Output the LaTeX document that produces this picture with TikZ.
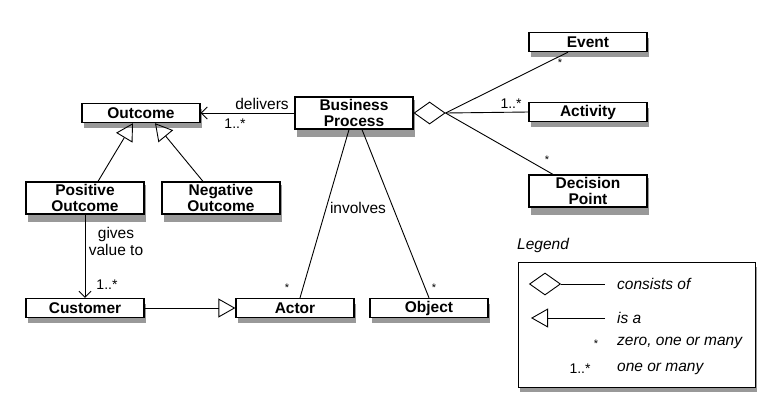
\documentclass[tikz,border=0pt]{standalone}
\usepackage{fontspec}
\setmainfont{Liberation Sans}
\usetikzlibrary{shapes.geometric, arrows.meta, positioning, backgrounds}
\tikzset{
  cls/.style = {rectangle, draw=black, line width=1.3pt, fill=white, align=center, minimum width=118pt, minimum height=19pt,
    inner xsep=1pt, inner ysep=2pt, font=\fontsize{15.5}{16.5}\selectfont\bfseries},
  boxshadow/.style = {fill=black!40},
  line/.style = {line width=0.9pt},
  assoc/.style = {line, -{Straight Barb[length=6pt, width=12pt]}},
  isa/.style = {line, -{Triangle[open, length=17pt, width=19pt, line width=0.9pt]}},
  agg/.style = {diamond, draw=black, line width=0.9pt, fill=white, minimum width=31pt, minimum height=22pt, inner sep=0pt},
  lbl/.style = {font=\fontsize{15.5}{17}\selectfont, inner sep=1pt},
  mult/.style = {font=\fontsize{14}{15}\selectfont, inner sep=1pt},
  star/.style = {font=\fontsize{11}{12}\selectfont, inner sep=1pt},
  note/.style = {font=\fontsize{15.5}{17}\selectfont\itshape, inner sep=1pt, anchor=west}
}

\begin{document}
\begin{tikzpicture}[x=1pt, y=-1pt]
\useasboundingbox (0,0) rectangle (768,400);

% shadows first, boxes on top
\foreach \cx/\cy/\h in {588/42/19, 588/112/19, 588/191/37, 354/113/37, 141/113/19, 85/198/37, 221/198/37, 85/308/19, 295/308/19, 429/308/19}
  \fill[boxshadow] (\cx-57,\cy-\h/2+5) rectangle (\cx+61,\cy+\h/2+5);
\fill[boxshadow] (520,267) rectangle (757,392);

% classes
\node[cls] (event) at (588,42) {Event};
\node[cls] (activity) at (588,112) {Activity};
\node[cls] (decision) at (588,191) {Decision\\Point};
\node[cls] (bp) at (354,113) {Business\\Process};
\node[agg, right=0pt of bp] (bpagg) {};
\node[cls] (outcome) at (141,113) {Outcome};
\node[cls] (pos) at (85,198) {Positive\\Outcome};
\node[cls] (neg) at (221,198) {Negative\\Outcome};
\node[cls] (customer) at (85,308) {Customer};
\node[cls] (actor) at (295,308) {Actor};
\node[cls] (object) at (429,308) {Object};

% consists of
\draw[line] (bpagg.east) -- ([xshift=-20pt]event.south);
\draw[line] (bpagg.east) -- (activity.west);
\draw[line] (bpagg.east) -- ([xshift=-35pt]decision.north);
\node[star] at (560,63) {*};
\node[mult] at (511,104) {1..*};
\node[star] at (547,160) {*};

% associations
\draw[assoc] (bp.west) -- (outcome.east);
\node[lbl] at (262,104) {delivers};
\node[mult] at (235,124) {1..*};
\draw[assoc] (pos.south) -- (customer.north);
\node[lbl, align=center] at (116,241) {gives\\value to};
\node[mult] at (107,285) {1..*};
\draw[line] ([xshift=-5pt]bp.south) -- ([xshift=5pt]actor.north);
\draw[line] ([xshift=8pt]bp.south) -- (object.north);
\node[lbl] at (358,208) {involves};
\node[star] at (287,288) {*};
\node[star] at (434,288) {*};

% is a
\draw[isa] ([xshift=13pt]pos.north) -- ([xshift=-8pt]outcome.south);
\draw[isa] ([xshift=-18pt]neg.north) -- ([xshift=14pt]outcome.south);
\draw[isa] (customer.east) -- (actor.west);

% legend
\node[note] (lgtitle) at (516,245) {Legend};
\node[draw=black, line width=1pt, fill=white, minimum width=237pt, minimum height=125pt] (legend) at (636.5,324.5) {};
\node[agg] (lgagg) at (545,284) {};
\coordinate (lgaggend) at (605,284);
\draw[line] (lgagg.east) -- (lgaggend);
\coordinate (lgisastart) at (605,318);
\coordinate (lgisaend) at (531,318);
\draw[isa] (lgisastart) -- (lgisaend);
\node[note] (lgcons) at (616,284) {consists of};
\node[note] (lgisa) at (616,318) {is a};
\node[star] (lgstar) at (596,344) {*};
\node[note] (lgzero) at (616,343) {zero, one or many};
\node[mult] (lgmult) at (580,369) {1..*};
\node[note] (lgone) at (616,369) {one or many};
\end{tikzpicture}
\end{document}
